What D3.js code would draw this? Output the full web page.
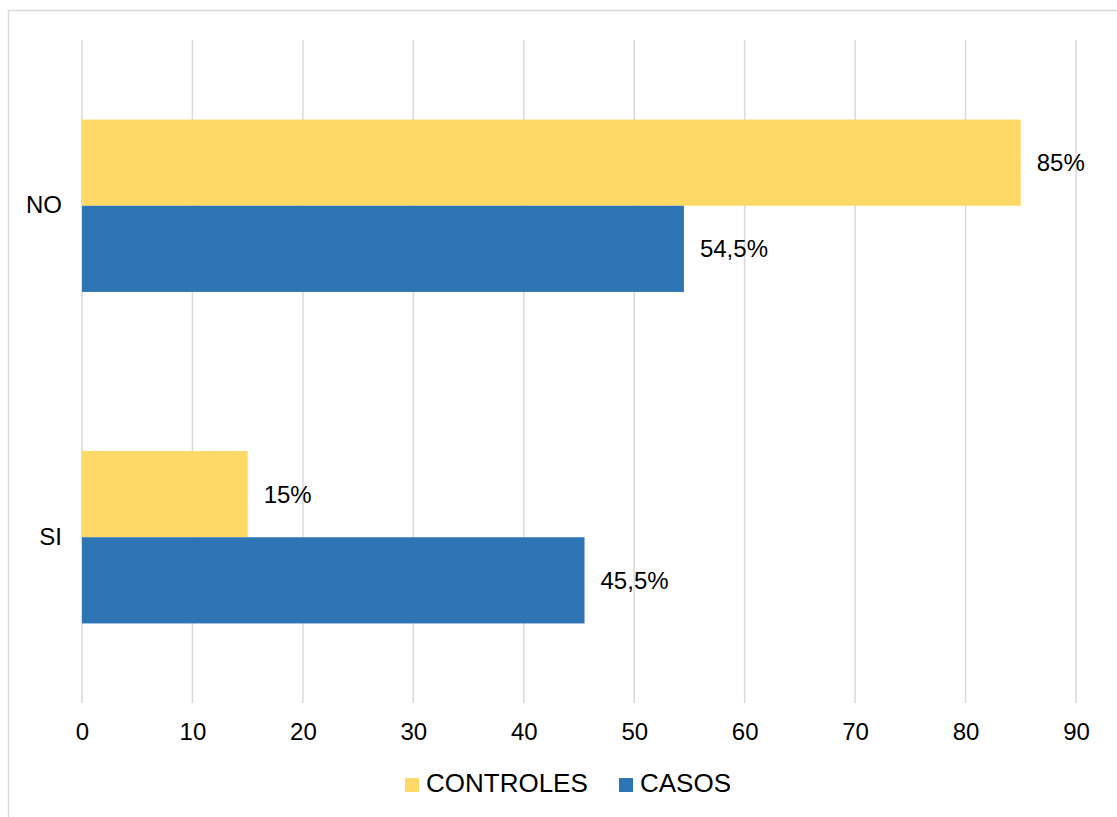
<!DOCTYPE html>
<html>
<head>
<meta charset="utf-8">
<title>Bar chart</title>
<style>
  body { margin: 0; background: #fff; }
  svg { display: block; font-family: "Liberation Sans", Arial, sans-serif; }
</style>
</head>
<body>
<script src="https://d3js.org/d3.v7.min.js"></script>
<script>
const categories = ["NO", "SI"];
const seriesNames = ["CONTROLES", "CASOS"];
const controles = [85, 15];
const casos = [54.5, 45.5];
const valueLabels = [["85%", "54,5%"], ["15%", "45,5%"]];
const xTicks = [0, 10, 20, 30, 40, 50, 60, 70, 80, 90];
const colors = ["#FFD966", "#2E75B6"];

const w = 1117, h = 817;
const plotLeft = 82, plotRight = 1076, plotTop = 40, plotBottom = 703;

const svg = d3.select("body").append("svg")
  .attr("width", w).attr("height", h);

svg.append("rect")
  .attr("x", 8.5).attr("y", 10.5)
  .attr("width", w + 10).attr("height", h + 10)
  .attr("fill", "none").attr("stroke", "#d9d9d9").attr("stroke-width", 1.5);

const x = d3.scaleLinear().domain([0, 90]).range([plotLeft, plotRight]);
const y = d3.scaleBand().domain(categories).range([plotTop, plotBottom]).paddingInner(0.48).paddingOuter(0.24);
const ySub = d3.scaleBand().domain(seriesNames).range([0, y.bandwidth()]);

// gridlines
svg.append("g").selectAll("line").data(xTicks).join("line")
  .attr("x1", d => x(d)).attr("x2", d => x(d))
  .attr("y1", plotTop).attr("y2", plotBottom)
  .attr("stroke", "#d9d9d9").attr("stroke-width", 1.5);

// x axis labels
const xAxis = d3.axisBottom(x).tickValues(xTicks).tickSize(0).tickPadding(0);
const gx = svg.append("g").attr("transform", `translate(0,${plotBottom + 20})`).call(xAxis);
gx.select(".domain").remove();
gx.selectAll("text").attr("font-size", 24).attr("fill", "#000")
  .attr("font-family", "Liberation Sans, Arial, sans-serif");

// y axis labels
const yAxis = d3.axisLeft(y).tickSize(0).tickPadding(0);
const gy = svg.append("g").attr("transform", `translate(${plotLeft - 20},0)`).call(yAxis);
gy.select(".domain").remove();
gy.selectAll("text").attr("font-size", 24).attr("fill", "#000")
  .attr("font-family", "Liberation Sans, Arial, sans-serif");

const rows = categories.map((c, i) => ({
  cat: c,
  vals: [
    { s: seriesNames[0], v: controles[i], label: valueLabels[i][0], color: colors[0] },
    { s: seriesNames[1], v: casos[i], label: valueLabels[i][1], color: colors[1] }
  ]
}));

const groups = svg.append("g").selectAll("g").data(rows).join("g")
  .attr("transform", d => `translate(0,${y(d.cat)})`);

groups.selectAll("rect").data(d => d.vals).join("rect")
  .attr("x", x(0))
  .attr("y", d => ySub(d.s))
  .attr("width", d => x(d.v) - x(0))
  .attr("height", ySub.bandwidth())
  .attr("fill", d => d.color);

groups.selectAll("text").data(d => d.vals).join("text")
  .attr("x", d => x(d.v) + 16)
  .attr("y", d => ySub(d.s) + ySub.bandwidth() / 2)
  .attr("dy", "0.35em")
  .attr("font-size", 24)
  .attr("fill", "#000")
  .text(d => d.label);

// legend
const legendItems = [
  { name: seriesNames[0], color: colors[0], x: 405 },
  { name: seriesNames[1], color: colors[1], x: 619 }
];
const lg = svg.append("g").selectAll("g").data(legendItems).join("g")
  .attr("transform", d => `translate(${d.x},778)`);
lg.append("rect").attr("width", 14).attr("height", 14).attr("fill", d => d.color);
lg.append("text").attr("x", 21).attr("y", 5).attr("dy", "0.35em")
  .attr("font-size", 26).attr("fill", "#000").text(d => d.name);
</script>
</body>
</html>
